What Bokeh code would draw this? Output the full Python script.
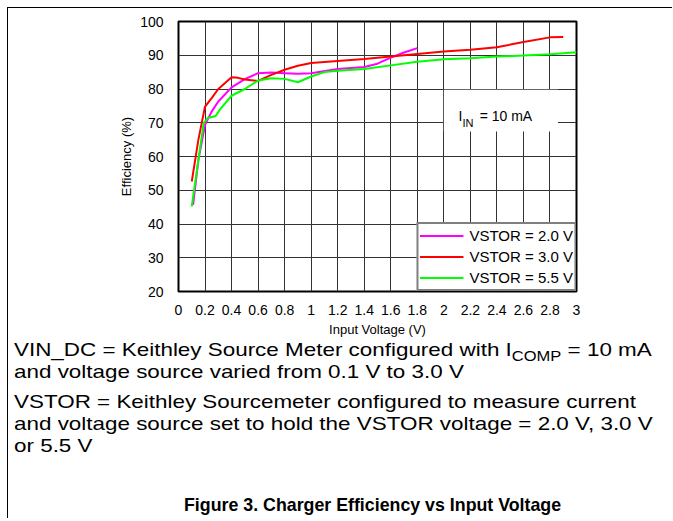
from bokeh.plotting import figure
from bokeh.models import Range1d, FixedTicker, Legend, LegendItem, BoxAnnotation, Label, Div
from bokeh.layouts import column
from bokeh.embed import file_html
from bokeh.resources import INLINE

# ---- data ----
x_tick_labels = ["0", "0.2", "0.4", "0.6", "0.8", "1", "1.2", "1.4", "1.6", "1.8",
                 "2", "2.2", "2.4", "2.6", "2.8", "3"]
y_ticks = [20, 30, 40, 50, 60, 70, 80, 90, 100]

vstor20_x = [0.11, 0.15, 0.2, 0.25, 0.3, 0.4, 0.5, 0.6, 0.7, 0.8, 0.9, 1.0, 1.2, 1.4, 1.5, 1.6, 1.7, 1.8]
vstor20_y = [45.7, 59.0, 69.4, 73.3, 76.3, 80.5, 82.9, 84.7, 84.9, 84.7, 84.5, 84.7, 85.9, 86.5, 87.5, 89.3, 90.8, 92.1]

vstor30_x = [0.1, 0.15, 0.2, 0.25, 0.3, 0.4, 0.45, 0.5, 0.6, 0.7, 0.8, 0.9, 1.0, 1.2, 1.4, 1.6, 1.8, 2.0, 2.2, 2.4, 2.6, 2.8, 2.9]
vstor30_y = [52.6, 65.0, 74.8, 77.3, 80.0, 83.5, 83.3, 82.8, 82.4, 84.2, 85.7, 86.9, 87.7, 88.3, 88.9, 89.6, 90.4, 91.1, 91.6, 92.4, 93.9, 95.3, 95.4]

vstor55_x = [0.1, 0.15, 0.19, 0.22, 0.28, 0.31, 0.4, 0.5, 0.6, 0.7, 0.8, 0.9, 1.0, 1.1, 1.2, 1.4, 1.6, 1.8, 2.0, 2.2, 2.4, 2.6, 2.8, 3.0]
vstor55_y = [45.2, 59.0, 69.9, 71.4, 72.0, 73.8, 78.0, 80.0, 82.5, 83.2, 83.0, 82.0, 83.7, 85.0, 85.4, 85.9, 87.0, 88.1, 88.8, 89.1, 89.6, 89.9, 90.3, 90.9]

series_names = ["VSTOR = 2.0 V", "VSTOR = 3.0 V", "VSTOR = 5.5 V"]
series_colors = ["#FF00FF", "#FF0000", "#00FF00"]

FONT = "Liberation Sans"

p = figure(width=665, height=331, output_backend="svg", toolbar_location=None,
           x_range=Range1d(0, 3), y_range=Range1d(20, 100),
           min_border_left=170, min_border_right=97, min_border_top=13, min_border_bottom=48)

x_ticks = [float(s) if "." in s else int(s) for s in x_tick_labels]
xt = FixedTicker(ticks=x_ticks)
yt = FixedTicker(ticks=y_ticks)
p.xaxis.ticker = xt
p.yaxis.ticker = yt
p.xgrid.ticker = xt
p.ygrid.ticker = yt
p.xaxis.major_label_overrides = {t: s for t, s in zip(x_ticks, x_tick_labels)}

for ax in (p.xaxis[0], p.yaxis[0]):
    ax.axis_line_color = None
    ax.major_tick_line_color = None
    ax.minor_tick_line_color = None
    ax.major_label_text_font = FONT
    ax.major_label_text_font_size = "14px"
    ax.major_label_text_color = "black"
    ax.axis_label_text_font = FONT
    ax.axis_label_text_font_size = "13px"
    ax.axis_label_text_font_style = "normal"
    ax.axis_label_text_color = "black"

p.xaxis.axis_label = "Input Voltage (V)"
p.yaxis.axis_label = "Efficiency (%)"
p.xaxis.major_label_standoff = 7
p.xaxis.axis_label_standoff = 4
p.yaxis.major_label_standoff = 9
p.yaxis.axis_label_standoff = 3

p.grid.grid_line_color = "#333333"
p.grid.grid_line_width = 1
p.grid.grid_line_alpha = 1

p.outline_line_color = "black"
p.outline_line_width = 2

r20 = p.line(vstor20_x, vstor20_y, line_color=series_colors[0], line_width=2)
r30 = p.line(vstor30_x, vstor30_y, line_color=series_colors[1], line_width=2)
r55 = p.line(vstor55_x, vstor55_y, line_color=series_colors[2], line_width=2)

legend = Legend(items=[LegendItem(label=series_names[0], renderers=[r20]),
                       LegendItem(label=series_names[1], renderers=[r30]),
                       LegendItem(label=series_names[2], renderers=[r55])],
                location="bottom_right", margin=0, padding=1, spacing=0,
                glyph_width=44, glyph_height=21, label_height=21, label_standoff=6,
                border_line_color="black", border_line_width=2,
                background_fill_color="white", background_fill_alpha=1,
                label_text_font=FONT, label_text_font_size="15px", label_text_color="black")
p.add_layout(legend)

# annotation box
p.add_layout(BoxAnnotation(left=2.0, right=2.86, bottom=67.4, top=79.8,
                           fill_color="white", fill_alpha=1, line_color=None))
p.add_layout(Label(x=2.11, y=71.9, text="I", text_font=FONT, text_font_size="14px",
                   text_baseline="alphabetic", text_color="black"))
p.add_layout(Label(x=2.14, y=69.9, text="IN", text_font=FONT, text_font_size="11px",
                   text_baseline="alphabetic", text_color="black"))
p.add_layout(Label(x=2.27, y=71.9, text="= 10 mA", text_font=FONT, text_font_size="14px",
                   text_baseline="alphabetic", text_color="black"))

sub = "font-size:14px;vertical-align:-5px;line-height:0"
para = "transform:scaleX(1.18);transform-origin:0 0;"
html = f"""
<div style="font-family:'{FONT}',Arial,sans-serif;font-size:19px;line-height:22px;color:#000;padding-left:6px;width:659px;white-space:nowrap;">
<div style="margin-top:0px;{para}">VIN_DC = Keithley Source Meter configured with I<span style="{sub}">COMP</span> = 10 mA<br>and voltage source varied from 0.1 V to 3.0 V</div>
<div style="margin-top:8px;{para}">VSTOR = Keithley Sourcemeter configured to measure current<br>and voltage source set to hold the VSTOR voltage = 2.0 V, 3.0 V<br>or 5.5 V</div>
<div style="margin-top:37px;margin-left:170px;font-size:17.8px;font-weight:bold;">Figure 3. Charger Efficiency vs Input Voltage</div>
</div>
"""
div = Div(text=html, width=665, height=180, margin=0)

layout = column(p, div, spacing=0, margin=(8, 0, 0, 8),
                styles={"box-shadow": "-1px -1px 0 0 #000"})

open("out.html", "w").write(file_html(layout, INLINE))
